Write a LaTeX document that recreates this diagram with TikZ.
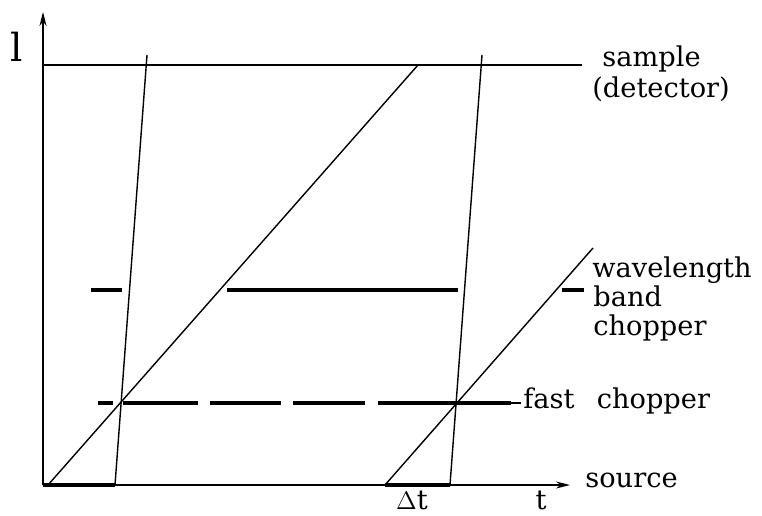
\documentclass[tikz,border=0pt]{standalone}
\usepackage{fontspec}
\setmainfont{DejaVu Serif}
\usetikzlibrary{arrows,arrows.meta}
\tikzstyle{axis} = [line width=0.8pt, -{Stealth[length=8pt,width=4pt]}]
\tikzstyle{flight} = [line width=0.8pt]
\tikzstyle{chopper} = [line width=2.6pt]
\tikzstyle{tag} = [anchor=base west, inner sep=0pt]

\begin{document}
\begin{tikzpicture}[x=1cm,y=1cm,every node/.style={font=\fontsize{15.5}{16.5}\selectfont}]
    \useasboundingbox (-0.86,-0.6) rectangle (14.38,9.7);
    % axes and sample level
    \coordinate (O) at (0,0);
    \coordinate (ltip) at (0,9.46);
    \coordinate (ttip) at (10.54,0);
    \coordinate (s0) at (0,8.4);
    \coordinate (s1) at (10.78,8.4);
    \draw[axis] (O) -- (ltip);
    \draw[axis] (O) -- (ttip);
    \draw[flight] (s0) -- (s1);
    % neutron paths (fast and slow)
    \coordinate (f1a) at (1.44,0);   \coordinate (f1b) at (2.08,8.6);
    \coordinate (v1a) at (0.1,0);    \coordinate (v1b) at (7.5,8.4);
    \coordinate (f2a) at (8.14,0);   \coordinate (f2b) at (8.78,8.6);
    \coordinate (v2a) at (6.84,0);   \coordinate (v2b) at (11.0,4.74);
    \draw[flight] (f1a) -- (f1b);
    \draw[flight] (v1a) -- (v1b);
    \draw[flight] (f2a) -- (f2b);
    \draw[flight] (v2a) -- (v2b);
    % source pulses
    \draw[chopper] (O) -- (f1a);
    \draw[chopper] (v2a) -- (f2a);
    % wavelength band chopper
    \foreach \a/\b in {0.96/1.58,3.68/8.3,10.38/10.82}{
        \draw[chopper] (\a,3.9) -- (\b,3.9);
    }
    % fast chopper
    \foreach \a/\b in {1.1/1.4,1.6/3.1,3.34/4.76,5.0/6.44,6.7/9.35}{
        \draw[chopper] (\a,1.64) -- (\b,1.64);
    }
    \draw[flight] (9.3,1.64) -- (9.55,1.64);
    % labels
    \node[font=\fontsize{22}{24}\selectfont,anchor=base,inner sep=0pt] (l) at (-0.52,8.46) {l};
    \node[tag] (sample) at (11.18,8.36) {sample};
    \node[tag] (detector) at (10.98,7.74) {(detector)};
    \node[tag] (wave) at (10.98,4.14) {wavelength};
    \node[tag] (band) at (11.0,3.56) {band};
    \node[tag] (bchop) at (11.0,3.0) {chopper};
    \node[tag] (fast) at (9.6,1.54) {fast\hspace{0.5em} chopper};
    \node[tag] (source) at (10.84,-0.04) {source};
    \node[anchor=base,inner sep=0pt] (t) at (9.96,-0.48) {t};
    \node[anchor=base,inner sep=0pt] (dt) at (7.38,-0.48) {$\Delta$t};
\end{tikzpicture}
\end{document}
